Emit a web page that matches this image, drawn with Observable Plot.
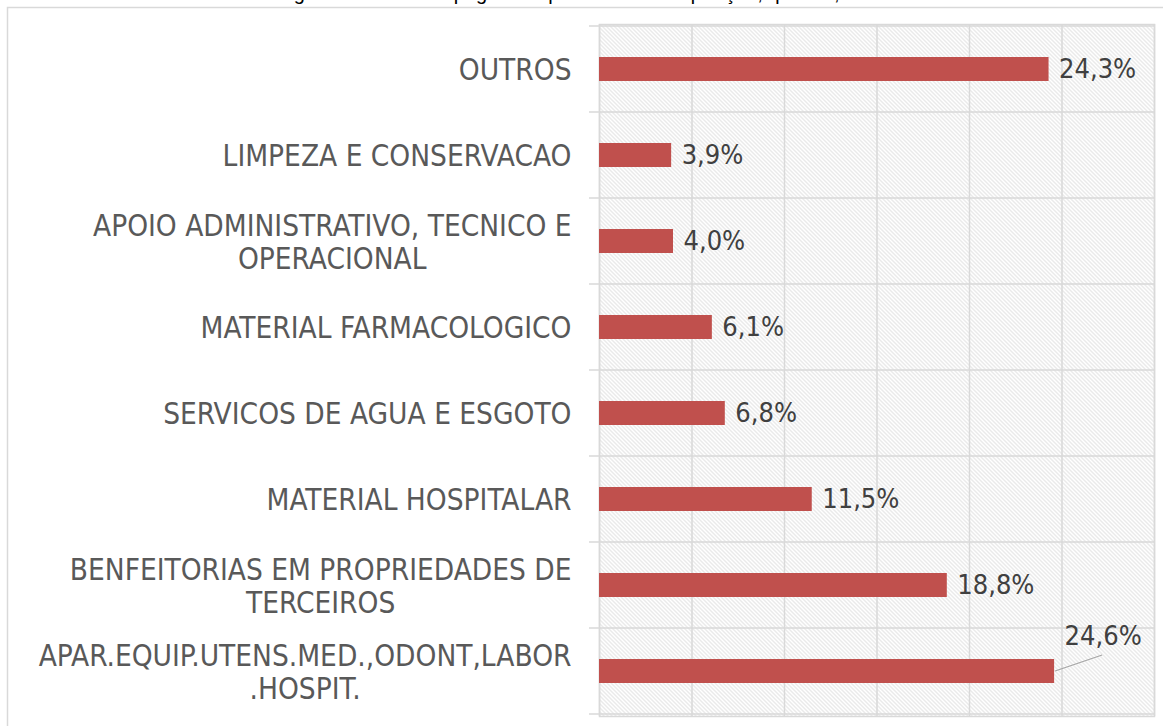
<!DOCTYPE html>
<html>
<head>
<meta charset="utf-8">
<script src="https://cdn.jsdelivr.net/npm/d3@7"></script>
<script src="https://cdn.jsdelivr.net/npm/@observablehq/plot@0.6"></script>
<style>
  html, body { margin: 0; padding: 0; background: #ffffff; }
  #chart { width: 1163px; height: 726px; overflow: hidden; }
</style>
</head>
<body>
<div id="chart"></div>
<script>
const titleText = "Figura 3 - Gastos a pagar dos processos de aquisição, quantia, %";
const categories = [
  "OUTROS",
  "LIMPEZA E CONSERVACAO",
  "APOIO ADMINISTRATIVO, TECNICO E OPERACIONAL",
  "MATERIAL FARMACOLOGICO",
  "SERVICOS DE AGUA E ESGOTO",
  "MATERIAL HOSPITALAR",
  "BENFEITORIAS EM PROPRIEDADES DE TERCEIROS",
  "APAR.EQUIP.UTENS.MED.,ODONT,LABOR.HOSPIT."
];
const tickLabels = [
  "OUTROS",
  "LIMPEZA E CONSERVACAO",
  "APOIO ADMINISTRATIVO, TECNICO E\nOPERACIONAL",
  "MATERIAL FARMACOLOGICO",
  "SERVICOS DE AGUA E ESGOTO",
  "MATERIAL HOSPITALAR",
  "BENFEITORIAS EM PROPRIEDADES DE\nTERCEIROS",
  "APAR.EQUIP.UTENS.MED.,ODONT,LABOR\n.HOSPIT."
];
const values = [24.3, 3.9, 4.0, 6.1, 6.8, 11.5, 18.8, 24.6];
const xTicks = [0, 5, 10, 15, 20, 25, 30];

const data = categories.map((c, i) => ({category: c, value: values[i]}));
const fmt = d => d.value.toFixed(1).replace(".", ",") + "%";
const lastCat = categories[categories.length - 1];

const FONT = '"Liberation Sans Narrow", "DejaVu Sans Condensed", "Roboto Condensed", "Liberation Sans", sans-serif';
const GRID = "#d9d9d9";

// band separators drawn from the y scale
function separators(index, scales, values, dims) {
  const g = d3.create("svg:g");
  const y = scales.y;
  const bw = y.bandwidth ? y.bandwidth() : (dims.height - dims.marginTop - dims.marginBottom) / categories.length;
  const ys = categories.map(c => y(c));
  ys.push(y(lastCat) + bw);
  for (const yy of ys) {
    g.append("line")
      .attr("x1", dims.marginLeft - 10).attr("x2", dims.width - dims.marginRight)
      .attr("y1", yy).attr("y2", yy)
      .attr("stroke", GRID).attr("stroke-width", 1.5);
  }
  return g.node();
}

// leader line for the displaced last label
function leader(index, scales, values, dims) {
  const y = scales.y;
  const bw = y.bandwidth ? y.bandwidth() : (dims.height - dims.marginTop - dims.marginBottom) / categories.length;
  const d = data[data.length - 1];
  const x0 = scales.x(d.value);
  const y0 = y(d.category) + bw / 2;
  return d3.create("svg:line")
    .attr("x1", x0 + 1).attr("y1", y0)
    .attr("x2", x0 + 48).attr("y2", y0 - 16)
    .attr("stroke", "#a6a6a6").attr("stroke-width", 1.2)
    .node();
}

const chart = Plot.plot({
  width: 1163,
  height: 726,
  marginLeft: 599,
  marginRight: 9,
  marginTop: 24,
  marginBottom: 10,
  style: {fontFamily: FONT, background: "transparent", overflow: "visible"},
  x: {domain: [0, 30], axis: null},
  y: {domain: categories, padding: 0},
  marks: [
    Plot.frame({fill: "url(#hatch)", stroke: null}),
    Plot.ruleX(xTicks, {stroke: GRID, strokeWidth: 1.5}),
    separators,
    Plot.frame({stroke: GRID, strokeWidth: 1.5}),
    Plot.barX(data, {x: "value", y: "category", fill: "#C0504D", insetTop: 31, insetBottom: 31}),
    Plot.text(data.filter(d => d.category !== lastCat), {
      x: "value", y: "category", text: fmt, dx: 10, textAnchor: "start",
      fill: "#404040", fontSize: 27
    }),
    Plot.text(data.filter(d => d.category === lastCat), {
      x: "value", y: "category", text: fmt, dx: 10, dy: -35, textAnchor: "start",
      fill: "#404040", fontSize: 27
    }),
    leader,
    Plot.axisY({
      tickSize: 0, tickPadding: 28, fontSize: 29.5, fill: "#595959",
      tickFormat: d => tickLabels[categories.indexOf(d)], lineHeight: 1.12, label: null
    })
  ]
});

const svg = d3.select(chart);
// hatch pattern definition
const defs = svg.insert("defs", ":first-child");
const pat = defs.append("pattern")
  .attr("id", "hatch").attr("patternUnits", "userSpaceOnUse")
  .attr("width", 4).attr("height", 4);
pat.append("rect").attr("width", 4).attr("height", 4).attr("fill", "#ffffff");
pat.append("path").attr("d", "M-1,-1 L5,5 M-1,3 L1,5 M3,-1 L5,1")
  .attr("stroke", "#d4d4d4").attr("stroke-width", 1);

// outer chart border
svg.insert("rect", "defs + *")
  .attr("x", 7.5).attr("y", 7.5).attr("width", 1200).attr("height", 800)
  .attr("fill", "none").attr("stroke", GRID).attr("stroke-width", 1.5);

// cropped figure title above (only its lower edge is inside the picture, as in the reference)
svg.append("text")
  .attr("x", 570).attr("y", -0.5).attr("text-anchor", "middle")
  .attr("font-family", '"Liberation Sans", Carlito, sans-serif')
  .attr("font-size", 20).attr("fill", "#000000")
  .text(titleText);

document.getElementById("chart").appendChild(chart);

// center wrapped lines within multi-line tick labels (Excel style)
svg.selectAll('g[aria-label="y-axis tick label"] text').each(function() {
  const tspans = d3.select(this).selectAll("tspan");
  if (tspans.size() < 2) return;
  let maxW = 0;
  tspans.each(function() { maxW = Math.max(maxW, this.getComputedTextLength()); });
  d3.select(this).attr("text-anchor", "middle");
  tspans.each(function() {
    const x0 = +(this.getAttribute("x") || 0);
    this.setAttribute("x", x0 - maxW / 2);
  });
});
</script>
</body>
</html>
